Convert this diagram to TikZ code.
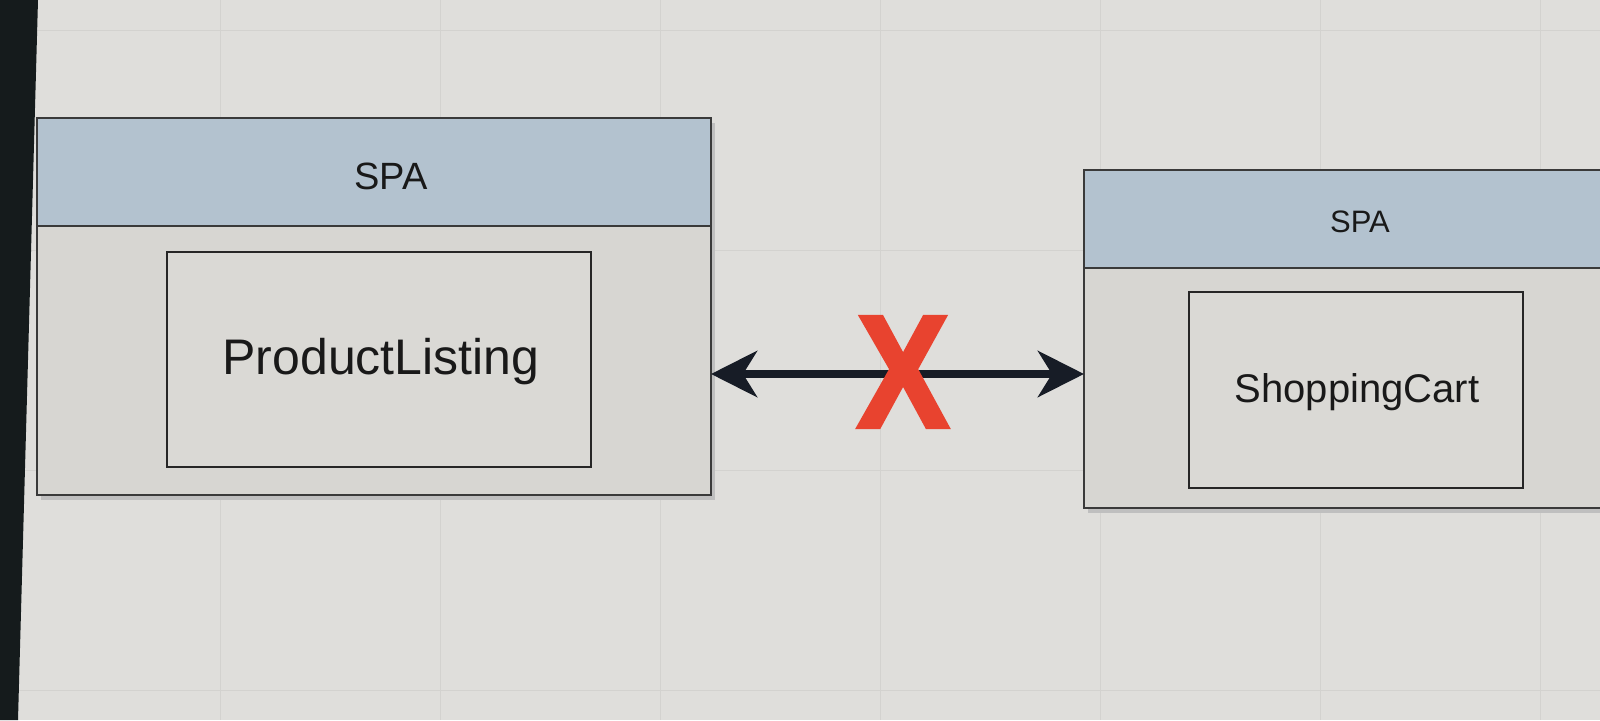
\documentclass[tikz,border=0pt]{standalone}
\usepackage{fontspec}
\setmainfont{Liberation Sans}
\newfontfamily\crossfont[FakeBold=2.5]{Liberation Sans Bold}
\usetikzlibrary{arrows.meta}
\definecolor{bgc}{HTML}{DFDEDB}
\definecolor{headc}{HTML}{B3C2CF}
\definecolor{bodyc}{HTML}{D7D6D2}
\definecolor{innerc}{HTML}{DAD9D5}
\definecolor{linec}{HTML}{3A3A3A}
\definecolor{arrowc}{HTML}{171C26}
\definecolor{crossc}{HTML}{E8432F}
\definecolor{bezelc}{HTML}{151B1C}
\definecolor{gridc}{HTML}{D3D2CF}
\begin{document}
\begin{tikzpicture}[x=1pt,y=-1pt,
  outerbox/.style={draw=linec,line width=1.6pt,fill=bodyc,inner sep=0pt,outer sep=0pt},
  headbox/.style={draw=linec,line width=1.6pt,fill=headc,inner sep=0pt,outer sep=0pt},
  innerbox/.style={draw=black!85,line width=2pt,fill=innerc,inner sep=0pt,outer sep=0pt},
  shadowbox/.style={fill=black!25,inner sep=0pt,outer sep=0pt},
  label/.style={text=black!90,inner sep=0pt},
  gridline/.style={gridc,line width=0.6pt},
  connector/.style={draw=arrowc,line width=8pt,{Stealth[length=46pt,width=46pt,inset=14pt]}-{Stealth[length=46pt,width=46pt,inset=14pt]}}
]
\useasboundingbox (0,0) rectangle (1600,720);
\clip (0,0) rectangle (1600,720);
\fill[bgc] (0,0) rectangle (1600,720);
\foreach \x in {0,220,...,1600} \draw[gridline] (\x,0) -- (\x,720);
\foreach \y in {0,220,...,720} \draw[gridline] (0,\y+30) -- (1600,\y+30);
% bezel
\fill[bezelc] (0,0) -- (38,0) -- (18,720) -- (0,720) -- cycle;

% left container
\node[shadowbox,minimum width=674pt,minimum height=377pt] (lshadow) at (378,311) {};
\node[outerbox,minimum width=674pt,minimum height=377pt] (lbox) at (374,306.5) {};
\node[headbox,minimum width=674pt,minimum height=108pt,anchor=north west] (lhead) at (lbox.north west) {};
\node[label,font=\fontsize{38}{38}\selectfont] (ltitle) at (391,176) {SPA};
\node[innerbox,minimum width=424pt,minimum height=215pt] (pl) at (379,359.5) {};
\node[label,font=\fontsize{50}{50}\selectfont] (pltext) at (381,362) {ProductListing};

% right container
\node[shadowbox,minimum width=560pt,minimum height=338pt] (rshadow) at (1368,344) {};
\node[outerbox,minimum width=560pt,minimum height=338pt] (rbox) at (1364,339) {};
\node[headbox,minimum width=560pt,minimum height=98pt,anchor=north west] (rhead) at (rbox.north west) {};
\node[label,font=\fontsize{31}{31}\selectfont] (rtitle) at (1360,222) {SPA};
\node[innerbox,minimum width=334pt,minimum height=196pt] (sc) at (1356,390) {};
\node[label,font=\fontsize{40}{40}\selectfont] (sctext) at (1357,392) {ShoppingCart};

% connector
\coordinate (arrowy) at (0,374);
\draw[connector] (lbox.east |- arrowy) -- (rbox.west |- arrowy);

% red cross
\node[label,text=crossc,font=\fontsize{160}{160}\crossfont,xscale=0.86] (cross) at (903,372) {X};
\end{tikzpicture}
\end{document}
